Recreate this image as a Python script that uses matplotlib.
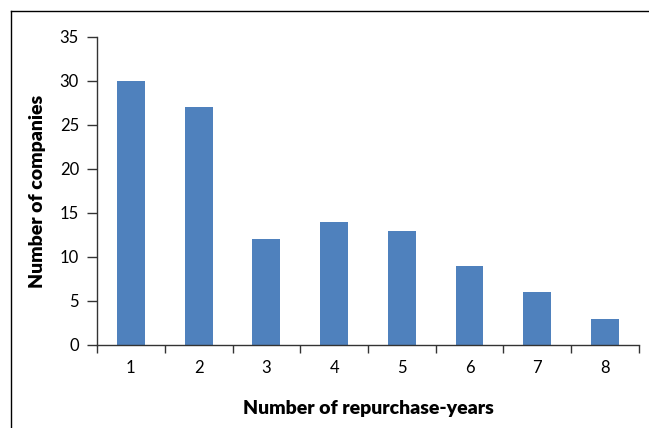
import matplotlib
matplotlib.use("Agg")
import matplotlib.pyplot as plt
from matplotlib.lines import Line2D
import numpy as np

years = [1, 2, 3, 4, 5, 6, 7, 8]
companies = [30, 27, 12, 14, 13, 9, 6, 3]
yticks = [0, 5, 10, 15, 20, 25, 30, 35]

plt.rcParams['font.family'] = ['Lato', 'DejaVu Sans']

fig = plt.figure(figsize=(6.49, 4.28), dpi=100)
ax = fig.add_axes([0.1495, 0.194, 0.835, 0.7196])

ax.bar(years, companies, width=0.41, color='#4F81BD')

ax.set_xlim(0.5, 8.5)
ax.set_ylim(0, 35)
ax.set_yticks(yticks)
ax.set_xticks(np.arange(0.5, 9, 1))
ax.set_xticklabels([])
ax.set_xticks(years, minor=True)
ax.set_xticklabels([str(y) for y in years], minor=True)
ax.tick_params(axis='x', which='major', direction='out', length=6, width=1, color='#333333')
ax.tick_params(axis='x', which='minor', length=0, pad=11, labelsize=12)
ax.tick_params(axis='y', direction='out', length=7, width=1, color='#333333', labelsize=12, pad=6)

for s in ['top', 'right']:
    ax.spines[s].set_visible(False)
for s in ['left', 'bottom']:
    ax.spines[s].set_color('#333333')
    ax.spines[s].set_linewidth(1)

ax.set_xlabel('Number of repurchase-years', fontsize=14, fontweight='heavy', labelpad=17)
ax.set_ylabel('Number of companies', fontsize=14, fontweight='heavy', labelpad=10)

# outer chart border (only top and left visible in the crop)
fig.add_artist(Line2D([11/649, 11/649], [0, 1 - 11/428], transform=fig.transFigure, color='black', lw=1))
fig.add_artist(Line2D([11/649, 1], [1 - 11/428, 1 - 11/428], transform=fig.transFigure, color='black', lw=1))

fig.savefig('out.png', dpi=100)
